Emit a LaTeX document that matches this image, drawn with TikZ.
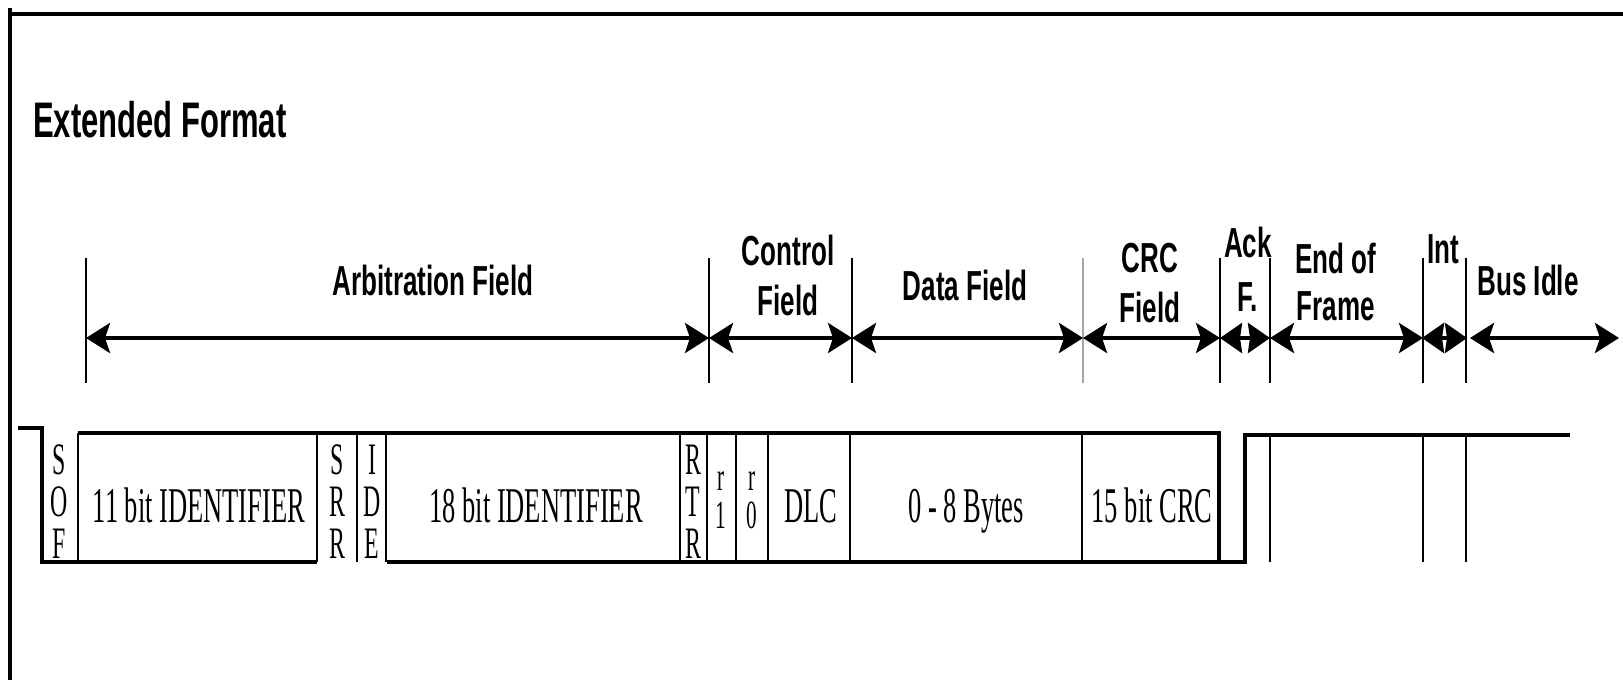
\documentclass[tikz,border=0pt]{standalone}
\usepackage{fontspec}
\setmainfont{Liberation Serif}
\newfontfamily\hdrfont[FakeStretch=0.62]{Liberation Sans}
\newfontfamily\bitfont[FakeStretch=0.53]{Liberation Serif}
\usetikzlibrary{arrows.meta}

\begin{document}
\begin{tikzpicture}[x=1pt,y=-1pt,
  frame/.style={line width=4pt},
  wave/.style={line width=4pt},
  sep/.style={line width=2.5pt},
  tick/.style={line width=2.5pt},
  span/.style={line width=4pt,{Stealth[length=24pt,width=30pt,inset=5pt]}-{Stealth[length=24pt,width=30pt,inset=5pt]}},
  shortspan/.style={line width=4pt,{Stealth[length=22pt,width=30pt,inset=2pt]}-{Stealth[length=22pt,width=30pt,inset=2pt]}},
  hdr/.style={font=\hdrfont\bfseries\fontsize{42}{50}\selectfont,inner sep=0pt,align=center},
  bits/.style={font=\bitfont\fontsize{50}{52}\selectfont,inner sep=0pt},
  bitcol/.style={font=\bitfont\fontsize{45}{42}\selectfont,inner sep=0pt,align=center}]
  \useasboundingbox (0,0) rectangle (1623,680);
  \draw[frame] (10,680) -- (10,8);
  \draw[frame] (8,14) -- (1623,14);
  \node[hdr,font=\hdrfont\bfseries\fontsize{50}{54}\selectfont,anchor=base west] (title) at (33,137) {Extended Format};

  % field spans
  \coordinate (ta) at (86,338);
  \coordinate (tb) at (709,338);
  \coordinate (tc) at (852,338);
  \coordinate (td) at (1083,338);
  \coordinate (te) at (1220,338);
  \coordinate (tf) at (1270,338);
  \coordinate (tg) at (1423,338);
  \coordinate (th) at (1466,338);
  \coordinate (idleend) at (1619,338);
  \draw[tick] (86,258) -- (86,383);
  \draw[tick] (709,258) -- (709,383);
  \draw[tick] (852,258) -- (852,383);
  \draw[tick,gray!70,line width=2pt] (1083,258) -- (1083,383);
  \draw[tick] (1220,258) -- (1220,383);
  \draw[tick] (1270,258) -- (1270,383);
  \draw[tick] (1423,258) -- (1423,383);
  \draw[tick] (1466,258) -- (1466,383);
  \draw[span] (ta) -- (tb);
  \draw[span] (tb) -- (tc);
  \draw[span] (tc) -- (td);
  \draw[span] (td) -- (te);
  \draw[shortspan] (te) -- (tf);
  \draw[span] (tf) -- (tg);
  \draw[shortspan,shorten <=-1pt,shorten >=-1pt] (tg) -- (th);
  \draw[span,shorten <=4pt] (th) -- (idleend);

  \node[hdr,anchor=base] (arbfld) at (433,295) {Arbitration Field};
  \node[hdr,anchor=north] (ctrlfld) at (788,235) {Control\\Field};
  \node[hdr,anchor=base] (datafld) at (965,300) {Data Field};
  \node[hdr,anchor=north] (crcfld) at (1150,243) {CRC\\Field};
  \node[hdr,anchor=north] (ackfld) at (1248,227) {Ack\\[4pt]F.};
  \node[hdr,anchor=north] (eoffld) at (1336,243) {End of\\[-3pt]Frame};
  \node[hdr,anchor=base] (intfld) at (1443,263) {Int};
  \node[hdr,anchor=base] (idlefld) at (1528,295) {Bus Idle};

  % bit stream
  \draw[wave] (18,428) -- (42,428) -- (42,562) -- (317,562);
  \draw[wave] (78,433) -- (1219,433) -- (1219,562);
  \draw[wave] (387,562) -- (1245,562) -- (1245,435) -- (1570,435);
  \draw[sep] (78,433) -- (78,562);
  \draw[sep] (317,433) -- (317,562);
  \draw[sep] (357,433) -- (357,562);
  \draw[sep] (386,433) -- (386,562);
  \draw[sep] (680,433) -- (680,562);
  \draw[sep] (707,433) -- (707,562);
  \draw[sep] (736,433) -- (736,562);
  \draw[sep] (768,433) -- (768,562);
  \draw[sep] (850,433) -- (850,562);
  \draw[sep] (1082,433) -- (1082,562);
  \draw[sep] (1270,435) -- (1270,562);
  \draw[sep] (1423,435) -- (1423,562);
  \draw[sep] (1466,435) -- (1466,562);

  \node[bitcol] (sof) at (59,502) {S\\O\\F};
  \node[bits,anchor=base] (id11) at (199,522) {11 bit IDENTIFIER};
  \node[bitcol] (srr) at (337,502) {S\\R\\R};
  \node[bitcol] (ide) at (372,502) {I\\D\\E};
  \node[bits,anchor=base] (id18) at (536,522) {18 bit IDENTIFIER};
  \node[bitcol] (rtr) at (693,502) {R\\T\\R};
  \node[bitcol,font=\bitfont\fontsize{40}{38}\selectfont] (rone) at (721,500) {r\\1};
  \node[bitcol,font=\bitfont\fontsize{40}{38}\selectfont] (rzero) at (752,500) {r\\0};
  \node[bits,anchor=base] (dlc) at (811,522) {DLC};
  \node[bits,anchor=base] (databytes) at (966,522) {0 - 8 Bytes};
  \node[bits,anchor=base] (crc15) at (1152,522) {15 bit CRC};
\end{tikzpicture}
\end{document}
